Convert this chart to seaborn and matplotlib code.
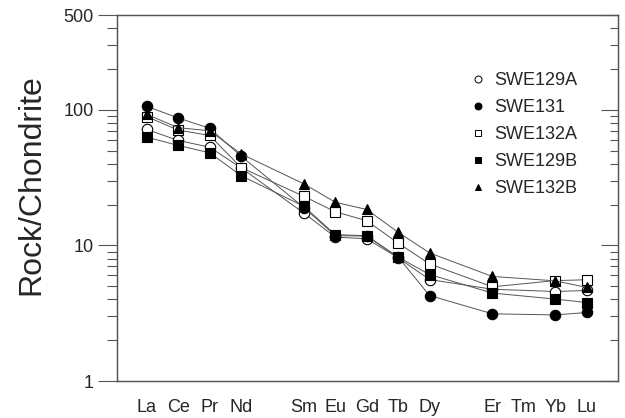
import numpy as np
import pandas as pd
import matplotlib
matplotlib.use("Agg")
import matplotlib.pyplot as plt
from matplotlib.lines import Line2D
from matplotlib.ticker import FixedLocator, FixedFormatter, NullFormatter
import seaborn as sns

# ---- data ----
elements = ["La", "Ce", "Pr", "Nd", "Pm", "Sm", "Eu", "Gd", "Tb", "Dy", "Ho", "Er", "Tm", "Yb", "Lu"]
tick_labels = ["La", "Ce", "Pr", "Nd", "", "Sm", "Eu", "Gd", "Tb", "Dy", "Er", "Tm", "Yb", "Lu"]
samples = ["SWE129A", "SWE131", "SWE132A", "SWE129B", "SWE132B"]
N = np.nan
swe129a = [71.6, 59.4, 53.0, 37.3, N, 17.3, 11.5, 11.2, 8.1, 5.6, N, 4.75, N, 4.57, 4.65]
swe131 = [106.0, 87.0, 73.0, 45.5, N, 19.0, 11.8, 11.7, 8.2, 4.27, N, 3.13, N, 3.07, 3.2]
swe132a = [89.0, 70.8, 64.7, 37.5, N, 23.0, 17.7, 15.2, 10.4, 7.3, N, 4.95, N, 5.5, 5.58]
swe129b = [62.8, 54.6, 48.2, 32.7, N, 19.4, 12.0, 11.8, 8.2, 6.1, N, 4.45, N, 4.02, 3.79]
swe132b = [92.5, 73.8, 70.0, 47.3, N, 28.4, 20.8, 18.4, 12.5, 8.8, N, 5.9, N, 5.48, 4.9]
values = [swe129a, swe131, swe132a, swe129b, swe132b]

markers = ["o", "o", "s", "s", "^"]
filled = [False, True, False, True, True]
msizes = [7.5, 7.5, 7.5, 7.5, 7.0]

sns.set_style("white")
plt.rcParams["font.family"] = ["Liberation Sans", "DejaVu Sans"]

fig = plt.figure(figsize=(6.25, 4.18), dpi=100)
ax = fig.add_axes([117 / 625, 1 - 381 / 418, (618 - 117) / 625, (381 - 15) / 418])

pos = np.arange(len(elements))
for name, vals, mk, fl, ms in zip(samples, values, markers, filled, msizes):
    df = pd.DataFrame({"x": pos, "y": vals}).dropna()
    sns.lineplot(data=df, x="x", y="y", ax=ax, color="#555555", linewidth=0.7,
                 marker=mk, markersize=ms, markeredgecolor="black", markeredgewidth=0.8,
                 markerfacecolor=("black" if fl else "white"), estimator=None, sort=False)

ax.set_yscale("log")
ax.set_ylim(1, 500)
ax.set_xlim(-0.95, 15.0)

tick_pos = [0, 1, 2, 3, 4, 5, 6, 7, 8, 9, 11, 12, 13, 14]
ax.xaxis.set_major_locator(FixedLocator(tick_pos))
ax.xaxis.set_major_formatter(FixedFormatter(tick_labels))
ax.yaxis.set_major_locator(FixedLocator([1, 10, 100, 500]))
ax.yaxis.set_major_formatter(FixedFormatter(["1", "10", "100", "500"]))
minors = [2, 3, 4, 5, 6, 7, 8, 9, 20, 30, 40, 50, 60, 70, 80, 90, 200, 300, 400]
ax.yaxis.set_minor_locator(FixedLocator(minors))
ax.yaxis.set_minor_formatter(NullFormatter())
ax.xaxis.set_minor_locator(FixedLocator([]))

ax.tick_params(axis="x", which="major", direction="out", length=7, width=0.8,
               color="#555555", labelsize=13, pad=6, top=False)
ax.tick_params(axis="y", which="major", direction="out", length=14, width=0.8,
               color="#555555", labelsize=13, pad=3, right=False)
ax.tick_params(axis="y", which="minor", direction="out", length=7, width=0.8,
               color="#555555", right=False, left=True)

ax2 = ax.twinx()
ax2.set_yscale("log")
ax2.set_ylim(1, 500)
ax2.yaxis.set_major_locator(FixedLocator([1, 10, 100, 500]))
ax2.yaxis.set_minor_locator(FixedLocator(minors))
ax2.yaxis.set_major_formatter(NullFormatter())
ax2.yaxis.set_minor_formatter(NullFormatter())
ax2.tick_params(axis="y", which="major", direction="in", length=12, width=0.8, color="#555555")
ax2.tick_params(axis="y", which="minor", direction="in", length=6, width=0.8, color="#555555")

for a in (ax, ax2):
    for s in a.spines.values():
        s.set_color("#555555")
        s.set_linewidth(0.9)

ax.set_xlabel("")
ax.set_ylabel("Rock/Chondrite", fontsize=23)
ax.yaxis.set_label_coords(-0.14, 0.537)

handles = [Line2D([], [], linestyle="none", marker=mk, markersize=5,
                  markeredgecolor="black", markeredgewidth=0.7,
                  markerfacecolor=("black" if fl else "white"))
           for mk, fl in zip(markers, filled)]
leg = ax.legend(handles, samples, loc="upper left", bbox_to_anchor=(0.7536, 0.827),
                bbox_transform=fig.transFigure, frameon=False, fontsize=13,
                handlelength=0.8, handletextpad=0.5, labelspacing=0.55, borderpad=0,
                borderaxespad=0)

fig.savefig("out.png", dpi=100)
